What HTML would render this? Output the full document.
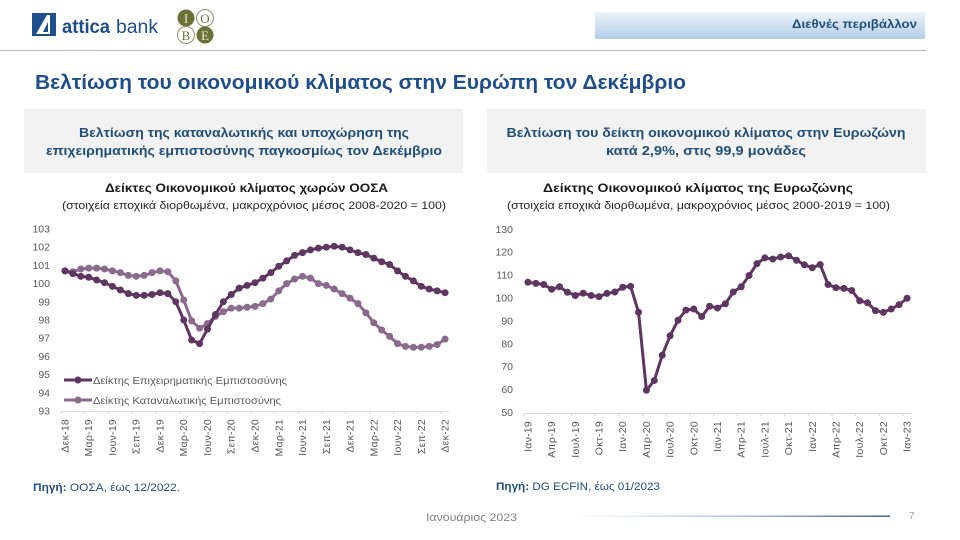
<!DOCTYPE html>
<html lang="el">
<head>
<meta charset="utf-8">
<title>Βελτίωση του οικονομικού κλίματος στην Ευρώπη</title>
<style>
html,body{margin:0;padding:0;background:#fff;}
svg{display:block;font-family:"Liberation Sans","DejaVu Sans",sans-serif;}
.panel-text{font-weight:bold;font-size:13px;fill:#1f4e79;text-anchor:middle;}
.chart-title{font-weight:bold;font-size:12px;fill:#1a1a1a;}
.chart-sub{font-size:11px;fill:#262626;}
.src{font-size:11px;fill:#1f4e79;}
.tick{font-size:10.5px;fill:#595959;}
.xlabel{letter-spacing:0.25px;}
.legend{font-size:10.5px;fill:#595959;}
</style>
</head>
<body>
<svg id="page" xmlns="http://www.w3.org/2000/svg" width="960" height="540" viewBox="0 0 960 540">
  <defs>
    <linearGradient id="bandGrad" x1="0" y1="0" x2="0" y2="1">
      <stop offset="0" stop-color="#eef4fa"/>
      <stop offset="1" stop-color="#b3cde8"/>
    </linearGradient>
    <linearGradient id="footGrad" x1="0" y1="0" x2="1" y2="0">
      <stop offset="0" stop-color="#ffffff"/>
      <stop offset="0.5" stop-color="#b4c8de"/>
      <stop offset="1" stop-color="#3f6796"/>
    </linearGradient>
  </defs>

  <g>
    <rect x="32" y="13" width="24" height="23" fill="#1f4e8c"/>
    <path d="M36 34 L47 15 L50 15 L50 34 Z" fill="#fff"/>
    <path d="M43 32 L48 22 L48 32 Z" fill="#1f4e8c"/>
    <text x="62" y="33" font-size="19" font-weight="bold" fill="#1f4e8c" textLength="48" lengthAdjust="spacingAndGlyphs">attica</text>
    <text x="116" y="33" font-size="19" fill="#1f4e8c" textLength="42" lengthAdjust="spacingAndGlyphs">bank</text>
  </g>
  <g font-family="'Liberation Serif',serif" font-size="13" text-anchor="middle">
    <circle cx="186" cy="18" r="8.5" fill="#6b7236"/>
    <circle cx="205" cy="18" r="8.5" fill="#fff" stroke="#8d9268"/>
    <circle cx="186" cy="35" r="8.5" fill="#fff" stroke="#8d9268"/>
    <circle cx="205" cy="35" r="8.5" fill="#6b7236"/>
    <text x="186" y="23" fill="#e8e8d8">Ι</text>
    <text x="205" y="23" fill="#6b7236">Ο</text>
    <text x="186" y="40" fill="#6b7236">Β</text>
    <text x="205" y="40" fill="#e8e8d8">Ε</text>
  </g>

  <rect x="595" y="12" width="330" height="27" fill="url(#bandGrad)"/>
  <text x="792" y="28" font-size="12" font-weight="bold" fill="#1f4e79" textLength="125" lengthAdjust="spacingAndGlyphs">Διεθνές περιβάλλον</text>
  <line x1="0" y1="50.5" x2="926" y2="50.5" stroke="#b8b8b8" stroke-width="1"/>

  <text x="35" y="89" font-size="20" font-weight="bold" fill="#1f4e8c" textLength="651" lengthAdjust="spacingAndGlyphs">Βελτίωση του οικονομικού κλίματος στην Ευρώπη τον Δεκέμβριο</text>

  <rect x="24" y="109" width="439" height="64" fill="#f2f2f2"/>
  <text class="panel-text" x="244" y="137" textLength="330" lengthAdjust="spacingAndGlyphs">Βελτίωση της καταναλωτικής και υποχώρηση της</text>
  <text class="panel-text" x="244" y="155" textLength="396" lengthAdjust="spacingAndGlyphs">επιχειρηματικής εμπιστοσύνης παγκοσμίως τον Δεκέμβριο</text>

  <rect x="487" y="109" width="439" height="64" fill="#f2f2f2"/>
  <text class="panel-text" x="706" y="137" textLength="399" lengthAdjust="spacingAndGlyphs">Βελτίωση του δείκτη οικονομικού κλίματος στην Ευρωζώνη</text>
  <text class="panel-text" x="706" y="155" textLength="200" lengthAdjust="spacingAndGlyphs">κατά 2,9%, στις 99,9 μονάδες</text>

  <text class="chart-title" x="105" y="192" textLength="283" lengthAdjust="spacingAndGlyphs">Δείκτες Οικονομικού κλίματος χωρών ΟΟΣΑ</text>
  <text class="chart-sub" x="62" y="209" textLength="384" lengthAdjust="spacingAndGlyphs">(στοιχεία εποχικά διορθωμένα, μακροχρόνιος μέσος 2008-2020 = 100)</text>
  <text class="chart-title" x="543" y="192" textLength="310" lengthAdjust="spacingAndGlyphs">Δείκτης Οικονομικού κλίματος της Ευρωζώνης</text>
  <text class="chart-sub" x="507" y="209" textLength="383" lengthAdjust="spacingAndGlyphs">(στοιχεία εποχικά διορθωμένα, μακροχρόνιος μέσος 2000-2019 = 100)</text>

  <g id="left-chart"></g>
  <g id="right-chart"></g>

  <g>
    <g>
      <line x1="64" y1="380" x2="92" y2="380" stroke="#5f3562" stroke-width="3"/>
      <circle cx="78" cy="380" r="3.5" fill="#5f3562"/>
      <text class="legend" x="93" y="384" textLength="194" lengthAdjust="spacingAndGlyphs">Δείκτης Επιχειρηματικής Εμπιστοσύνης</text>
    </g>
    <g>
      <line x1="64" y1="400" x2="92" y2="400" stroke="#8b6a8e" stroke-width="3"/>
      <circle cx="78" cy="400" r="3.5" fill="#8b6a8e"/>
      <text class="legend" x="93" y="404" textLength="188" lengthAdjust="spacingAndGlyphs">Δείκτης Καταναλωτικής Εμπιστοσύνης</text>
    </g>
  </g>

  <text class="src" x="33" y="491" textLength="147" lengthAdjust="spacingAndGlyphs"><tspan font-weight="bold">Πηγή:</tspan> ΟΟΣΑ, έως 12/2022.</text>
  <text class="src" x="496" y="490" textLength="164" lengthAdjust="spacingAndGlyphs"><tspan font-weight="bold">Πηγή:</tspan> DG ECFIN, έως 01/2023</text>

  <text x="426" y="521" font-size="11" fill="#7f7f7f" textLength="91" lengthAdjust="spacingAndGlyphs">Ιανουάριος 2023</text>
  <rect x="570" y="515.5" width="320" height="1.5" fill="url(#footGrad)"/>
  <text x="909" y="519" font-size="10" fill="#9a9a9a">7</text>
</svg>

<script>
// ----- left chart data -----
const leftCategories = ["Δεκ-18","Μαρ-19","Ιουν-19","Σεπ-19","Δεκ-19","Μαρ-20","Ιουν-20","Σεπ-20","Δεκ-20","Μαρ-21","Ιουν-21","Σεπ-21","Δεκ-21","Μαρ-22","Ιουν-22","Σεπ-22","Δεκ-22"];
const leftYTicks = [93,94,95,96,97,98,99,100,101,102,103];
const businessValues = [100.7,100.55,100.4,100.35,100.2,100.05,99.85,99.65,99.45,99.35,
  99.35,99.4,99.5,99.45,99,98,96.9,96.7,97.5,98.3,
  99,99.4,99.75,99.9,100.05,100.3,100.6,100.95,101.25,101.55,
  101.7,101.85,101.95,102,102.05,102,101.85,101.7,101.6,101.4,
  101.2,101.05,100.7,100.4,100.15,99.85,99.7,99.6,99.5];
const consumerValues = [100.7,100.65,100.8,100.85,100.85,100.8,100.7,100.6,100.45,100.4,
  100.45,100.6,100.7,100.65,100.15,99.1,97.95,97.55,97.8,98.2,
  98.45,98.65,98.65,98.7,98.75,98.9,99.15,99.6,100,100.25,
  100.4,100.3,100,99.9,99.7,99.45,99.2,98.9,98.4,97.85,
  97.45,97.1,96.7,96.55,96.5,96.5,96.55,96.65,96.95];

// ----- right chart data -----
const rightCategories = ["Ιαν-19","Απρ-19","Ιουλ-19","Οκτ-19","Ιαν-20","Απρ-20","Ιουλ-20","Οκτ-20","Ιαν-21","Απρ-21","Ιουλ-21","Οκτ-21","Ιαν-22","Απρ-22","Ιουλ-22","Οκτ-22","Ιαν-23"];
const rightYTicks = [50,60,70,80,90,100,110,120,130];
const esiValues = [106.9,106.4,105.9,103.8,104.9,102.5,101.1,102.1,101.1,100.6,
  102,102.6,104.7,105.1,93.8,59.7,64,75,83.5,90.3,
  94.7,95.2,91.9,96.4,95.6,97.5,102.6,104.9,109.8,115,
  117.5,117,117.9,118.4,116.5,114.5,113.2,114.6,105.9,104.5,
  104.2,103.3,98.8,97.9,94.5,93.7,95.2,97.1,99.9];

const SVG_NS = "http://www.w3.org/2000/svg";
const DARK = "#5f3562";
const LIGHT = "#8b6a8e";

function mk(parent, tag, attrs) {
  const el = document.createElementNS(SVG_NS, tag);
  for (const k in attrs) el.setAttribute(k, attrs[k]);
  parent.appendChild(el);
  return el;
}

function drawAxes(root, box, categories, yTicks, yScale, monthsPerLabel, count) {
  const step = (box.right - box.left) / count;
  const axis = mk(root, "line", {x1: box.left, x2: box.right, y1: box.axisY + 0.5, y2: box.axisY + 0.5, stroke: "#d9d9d9", "stroke-width": 1});
  
  
  categories.forEach(function (label, i) {
    const tx = box.left + i * monthsPerLabel * step;
    const tick = mk(root, "line", {x1: tx, x2: tx, y1: box.axisY, y2: box.axisY + 3, stroke: "#d9d9d9", "stroke-width": 1});
    
    
    const lx = tx + step / 2 + 3.5;
    const t = mk(root, "text", {class: "tick xlabel", "text-anchor": "end", transform: "translate(" + lx + "," + (box.axisY + 8) + ") rotate(-90)"});
    
    
    t.textContent = label;
  });
  yTicks.forEach(function (v) {
    const t = mk(root, "text", {class: "tick", x: box.labelX, y: yScale(v) + 3.5, "text-anchor": "end"});
    
    
    t.textContent = String(v);
  });
}

function drawSeries(root, values, xScale, yScale, color, name) {
  const g = mk(root, "g", {});
  
  
  const pts = values.map(function (v, i) { return xScale(i).toFixed(2) + "," + yScale(v).toFixed(2); }).join(" ");
  const line = mk(g, "polyline", {points: pts, fill: "none", stroke: color, "stroke-width": 3, "stroke-linejoin": "round"});
  
  
  values.forEach(function (v, i) {
    const c = mk(g, "circle", {cx: xScale(i), cy: yScale(v), r: 3.5, fill: color});
    
    
  });
}

// Left chart axes
const leftBox = {left: 61, right: 449, axisY: 411, labelX: 50};
const leftStep = (leftBox.right - leftBox.left) / businessValues.length;
function leftX(i) { return leftBox.left + (i + 0.5) * leftStep; }
function leftY(v) { return 229 + (103 - v) * 18.2; }

const leftRoot = document.getElementById("left-chart");
drawAxes(leftRoot, leftBox, leftCategories, leftYTicks, leftY, 3, businessValues.length);
drawSeries(leftRoot, consumerValues, leftX, leftY, LIGHT, "consumer-confidence-series");
drawSeries(leftRoot, businessValues, leftX, leftY, DARK, "business-confidence-series");

// Right chart axes
const rightBox = {left: 524, right: 911, axisY: 413, labelX: 513};
const rightStep = (rightBox.right - rightBox.left) / esiValues.length;
function rightX(i) { return rightBox.left + (i + 0.5) * rightStep; }
function rightY(v) { return 229.3 + (130 - v) * 2.29; }

const rightRoot = document.getElementById("right-chart");
drawAxes(rightRoot, rightBox, rightCategories, rightYTicks, rightY, 3, esiValues.length);
drawSeries(rightRoot, esiValues, rightX, rightY, DARK, "economic-sentiment-series");
</script>
</body>
</html>
